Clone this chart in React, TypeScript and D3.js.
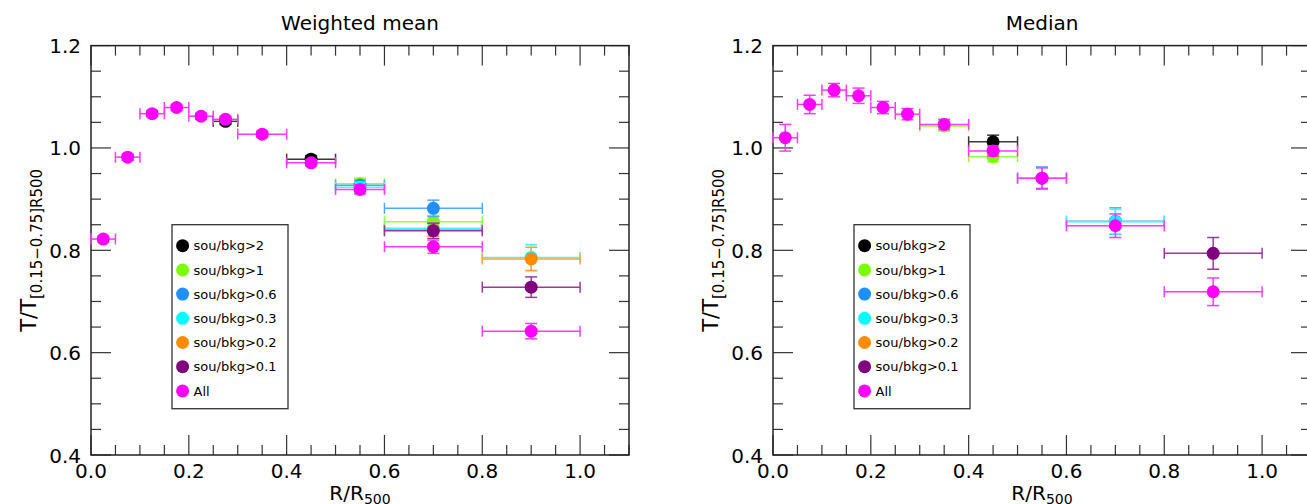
import React from 'react';
import * as d3 from 'd3';

// ---------- DATA ----------
const binCenters = [0.025, 0.075, 0.125, 0.175, 0.225, 0.275, 0.35, 0.45, 0.55, 0.7, 0.9];
const binLow = [0.0, 0.05, 0.1, 0.15, 0.2, 0.25, 0.3, 0.4, 0.5, 0.6, 0.8];
const binHigh = [0.05, 0.1, 0.15, 0.2, 0.25, 0.3, 0.4, 0.5, 0.6, 0.8, 1.0];

const seriesNames = ['sou/bkg>2', 'sou/bkg>1', 'sou/bkg>0.6', 'sou/bkg>0.3', 'sou/bkg>0.2', 'sou/bkg>0.1', 'All'];
const seriesColors = ['#000000', '#7CFC00', '#1E90FF', '#00FFFF', '#FF8C00', '#800080', '#FF00FF'];

const xTickLabels = ['0.0', '0.2', '0.4', '0.6', '0.8', '1.0'];
const yTickLabels = ['0.4', '0.6', '0.8', '1.0', '1.2'];

// Weighted mean panel (null = hidden under the "All" marker / not shown)
const wmSb2 = [null, null, null, null, null, 1.052, null, 0.978, null, null, null];
const wmSb2Err = [null, null, null, null, null, 0.006, null, 0.007, null, null, null];
const wmSb1 = [null, null, null, null, null, null, null, null, 0.930, 0.856, null];
const wmSb1Err = [null, null, null, null, null, null, null, null, 0.011, 0.012, null];
const wmSb06 = [null, null, null, null, null, null, null, null, 0.927, 0.882, null];
const wmSb06Err = [null, null, null, null, null, null, null, null, 0.010, 0.016, null];
const wmSb03 = [null, null, null, null, null, null, null, null, 0.923, 0.843, 0.786];
const wmSb03Err = [null, null, null, null, null, null, null, null, 0.010, 0.013, 0.025];
const wmSb02 = [null, null, null, null, null, null, null, null, null, 0.840, 0.783];
const wmSb02Err = [null, null, null, null, null, null, null, null, null, 0.013, 0.023];
const wmSb01 = [null, null, null, null, null, null, null, null, null, 0.838, 0.728];
const wmSb01Err = [null, null, null, null, null, null, null, null, null, 0.015, 0.020];
const wmAll = [0.822, 0.982, 1.067, 1.079, 1.062, 1.056, 1.027, 0.971, 0.919, 0.807, 0.642];
const wmAllErr = [0.006, 0.006, 0.006, 0.006, 0.006, 0.006, 0.006, 0.006, 0.009, 0.013, 0.015];

// Median panel
const mdSb2 = [null, null, null, null, null, null, null, 1.012, null, null, null];
const mdSb2Err = [null, null, null, null, null, null, null, 0.013, null, null, null];
const mdSb1 = [null, null, null, null, null, null, 1.043, 0.983, null, null, null];
const mdSb1Err = [null, null, null, null, null, null, 0.010, 0.010, null, null, null];
const mdSb06 = [null, null, null, null, null, null, null, null, 0.941, 0.857, null];
const mdSb06Err = [null, null, null, null, null, null, null, null, 0.022, 0.026, null];
const mdSb03 = [null, null, null, null, null, null, null, null, null, 0.856, null];
const mdSb03Err = [null, null, null, null, null, null, null, null, null, 0.024, null];
const mdSb02 = [null, null, null, null, null, null, null, null, null, null, null];
const mdSb02Err = [null, null, null, null, null, null, null, null, null, null, null];
const mdSb01 = [null, null, null, null, null, null, null, null, null, null, 0.794];
const mdSb01Err = [null, null, null, null, null, null, null, null, null, null, 0.031];
const mdAll = [1.020, 1.085, 1.113, 1.102, 1.079, 1.066, 1.046, 0.994, 0.941, 0.848, 0.719];
const mdAllErr = [0.026, 0.018, 0.013, 0.015, 0.012, 0.011, 0.010, 0.010, 0.020, 0.023, 0.027];

const wmValues = [wmSb2, wmSb1, wmSb06, wmSb03, wmSb02, wmSb01, wmAll];
const wmErrors = [wmSb2Err, wmSb1Err, wmSb06Err, wmSb03Err, wmSb02Err, wmSb01Err, wmAllErr];
const mdValues = [mdSb2, mdSb1, mdSb06, mdSb03, mdSb02, mdSb01, mdAll];
const mdErrors = [mdSb2Err, mdSb1Err, mdSb06Err, mdSb03Err, mdSb02Err, mdSb01Err, mdAllErr];

// ---------- LAYOUT ----------
const W = 1307;
const H = 504;
const PW = 538;
const TOP = 45.6;
const BOTTOM = 455;
const FONT = "'DejaVu Sans', 'Liberation Sans', sans-serif";

type PanelProps = { left: number; title: string; values: (number | null)[][]; errors: (number | null)[][] };

function Panel({ left, title, values, errors }: PanelProps) {
  const x = d3.scaleLinear().domain([0, 1.1]).range([left, left + PW]);
  const y = d3.scaleLinear().domain([0.4, 1.2]).range([BOTTOM, TOP]);
  const right = left + PW;
  const xTicks = d3.range(0, 23).map((i) => i * 0.05);
  const yTicks = d3.range(0, 17).map((i) => 0.4 + i * 0.05);
  const isMajor = (v: number) => Math.round(v * 100) % 20 === 0;
  const tickColor = '#333';
  const lg = { x: left + 81, y: 224.7, w: 116, h: 184 };

  return (
    <g>
      <text x={left + PW / 2} y={30} textAnchor="middle" fontSize={20} fontFamily={FONT} fill="#000">{title}</text>
      {/* ticks */}
      {xTicks.map((v, i) => {
        const L = isMajor(v) ? 20 : 10;
        const px = x(v);
        return (
          <g key={'xt' + i}>
            <line x1={px} x2={px} y1={BOTTOM} y2={BOTTOM - L} stroke={tickColor} strokeWidth={1.2} />
            <line x1={px} x2={px} y1={TOP} y2={TOP + L} stroke={tickColor} strokeWidth={1.2} />
          </g>
        );
      })}
      {yTicks.map((v, i) => {
        const L = isMajor(v) ? 20 : 10;
        const py = y(v);
        return (
          <g key={'yt' + i}>
            <line x1={left} x2={left + L} y1={py} y2={py} stroke={tickColor} strokeWidth={1.2} />
            <line x1={right} x2={right - L} y1={py} y2={py} stroke={tickColor} strokeWidth={1.2} />
          </g>
        );
      })}
      <rect x={left} y={TOP} width={PW} height={BOTTOM - TOP} fill="none" stroke="#222" strokeWidth={1.5} />
      {/* tick labels */}
      {xTickLabels.map((s) => (
        <text key={'xl' + s} x={x(+s)} y={478} textAnchor="middle" fontSize={20} fontFamily={FONT} fill="#000">{s}</text>
      ))}
      {yTickLabels.map((s) => (
        <text key={'yl' + s} x={left - 10} y={y(+s) + 7.5} textAnchor="end" fontSize={20} fontFamily={FONT} fill="#000">{s}</text>
      ))}
      {/* axis labels */}
      <text x={left + PW / 2} y={500} textAnchor="middle" fontSize={20} fontFamily={FONT} fill="#000">
        R/R<tspan fontSize={14} dy={4}>500</tspan>
      </text>
      <text transform={`translate(${left - 55},${(TOP + BOTTOM) / 2}) rotate(-90)`} textAnchor="middle" fontSize={21} fontFamily={FONT} fill="#000">
        T/T<tspan fontSize={15} dy={6}>[0.15−0.75]R500</tspan>
      </text>
      {/* data */}
      {values.map((vals, si) => {
        const color = seriesColors[si];
        const barColor = d3.interpolateRgb(color, '#ffffff')(0.22);
        const errs = errors[si];
        return (
          <g key={'s' + si}>
            {vals.map((v, k) => {
              if (v == null) return null;
              const e = errs[k] as number;
              const cx = x(binCenters[k]);
              const cy = y(v);
              const x0 = x(binLow[k]);
              const x1 = x(binHigh[k]);
              const yt = y(v + e);
              const yb = y(v - e);
              return (
                <g key={'p' + k}>
                  <g stroke={barColor} strokeWidth={1.5} fill="none">
                    <line x1={x0} x2={x1} y1={cy} y2={cy} />
                    <line x1={x0} x2={x0} y1={cy - 5.5} y2={cy + 5.5} />
                    <line x1={x1} x2={x1} y1={cy - 5.5} y2={cy + 5.5} />
                    <line x1={cx} x2={cx} y1={yt} y2={yb} />
                    <line x1={cx - 6} x2={cx + 6} y1={yt} y2={yt} />
                    <line x1={cx - 6} x2={cx + 6} y1={yb} y2={yb} />
                  </g>
                  <circle cx={cx} cy={cy} r={6.5} fill={color} />
                </g>
              );
            })}
          </g>
        );
      })}
      {/* legend */}
      <rect x={lg.x} y={lg.y} width={lg.w} height={lg.h} fill="#fff" stroke="#333" strokeWidth={1.3} />
      {seriesNames.map((name, i) => (
        <g key={'lg' + i}>
          <circle cx={lg.x + 10.6} cy={lg.y + 21 + i * 24.2} r={6.5} fill={seriesColors[i]} />
          <text x={lg.x + 21.6} y={lg.y + 21 + i * 24.2 + 4.6} fontSize={13} fontFamily={FONT} fill="#000">{name}</text>
        </g>
      ))}
    </g>
  );
}

export default function App() {
  return (
    <svg width={W} height={H} style={{ position: 'absolute', left: 0, top: 0, background: '#fff' }}>
      <rect x={0} y={0} width={W} height={H} fill="#fff" />
      <Panel left={91} title="Weighted mean" values={wmValues} errors={wmErrors} />
      <Panel left={773} title="Median" values={mdValues} errors={mdErrors} />
    </svg>
  );
}
